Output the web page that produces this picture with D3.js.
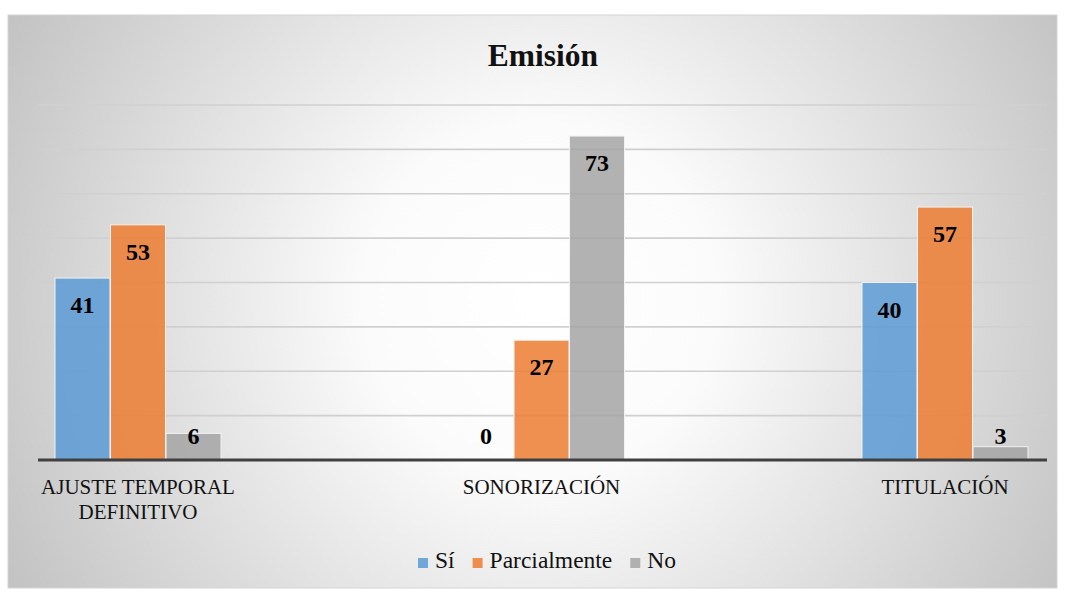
<!DOCTYPE html>
<html>
<head>
<meta charset="utf-8">
<script src="https://cdn.jsdelivr.net/npm/d3@7"></script>
</head>
<body style="margin:0">
<script>
// data
var categories = ["AJUSTE TEMPORAL|DEFINITIVO", "SONORIZACIÓN", "TITULACIÓN"];
var series = ["Sí", "Parcialmente", "No"];
var siValues = [41, 0, 40];
var parcialValues = [53, 27, 57];
var noValues = [6, 73, 3];
var yTicks = [0, 10, 20, 30, 40, 50, 60, 70, 80];
var colors = ["#5B9BD5", "#ED7D31", "#A5A5A5"];

var FONT = "'Liberation Serif'";
var w = 1065, h = 590;
var box = {x: 8, y: 15, w: 1049, h: 573};
var plot = {left: 38, right: 1047, top: 105, bottom: 460};

var svg = d3.select("body").append("svg")
    .attr("width", w).attr("height", h);

// background gradient
var grad = svg.append("defs").append("radialGradient")
    .attr("id", "bg")
    .attr("gradientUnits", "userSpaceOnUse")
    .attr("cx", 540).attr("cy", 300).attr("r", 630);
grad.append("stop").attr("offset", "0").attr("stop-color", "#ffffff");
grad.append("stop").attr("offset", "0.28").attr("stop-color", "#fbfbfb");
grad.append("stop").attr("offset", "1").attr("stop-color", "#bfbfbf");

svg.append("rect")
    .attr("x", box.x).attr("y", box.y)
    .attr("width", box.w).attr("height", box.h)
    .attr("fill", "url(#bg)")
    .attr("stroke", "#d4d4d4").attr("stroke-width", 1);

// scales
var y = d3.scaleLinear().domain([0, 80]).range([plot.bottom, plot.top]);
var x0 = d3.scalePoint().domain(categories).range([138, 945]);
var x1 = d3.scaleBand().domain(series).range([-83, 83]).paddingInner(0.01);
var color = d3.scaleOrdinal().domain(series).range(colors);

// gridlines
svg.append("g").selectAll("line")
    .data(yTicks.filter(function(d) { return d > 0; }))
    .enter().append("line")
    .attr("x1", plot.left).attr("x2", plot.right)
    .attr("y1", function(d) { return y(d); })
    .attr("y2", function(d) { return y(d); })
    .attr("stroke", "#d0d0d0").attr("stroke-width", 1.6);

// bars
var rows = categories.map(function(c, i) {
    return {cat: c, vals: [siValues[i], parcialValues[i], noValues[i]]};
});

var groups = svg.append("g").selectAll("g")
    .data(rows).enter().append("g")
    .attr("transform", function(d) { return "translate(" + x0(d.cat) + ",0)"; });

groups.selectAll("rect")
    .data(function(d) { return d.vals.map(function(v, j) { return {s: series[j], v: v}; }); })
    .enter().append("rect")
    .filter(function(d) { return d.v > 0; })
    .attr("x", function(d) { return x1(d.s); })
    .attr("width", x1.bandwidth())
    .attr("y", function(d) { return y(d.v); })
    .attr("height", function(d) { return y(0) - y(d.v); })
    .attr("fill", function(d) { return color(d.s); })
    .attr("fill-opacity", 0.85)
    .attr("stroke", "#f2f2f2").attr("stroke-width", 1);

// value labels (inside end, kept above the axis for short bars)
groups.selectAll("text")
    .data(function(d) { return d.vals.map(function(v, j) { return {s: series[j], v: v}; }); })
    .enter().append("text")
    .attr("x", function(d) { return x1(d.s) + x1.bandwidth() / 2; })
    .attr("y", function(d) { return Math.min(y(d.v) + 35, 444); })
    .attr("text-anchor", "middle")
    .style("font-family", FONT)
    .style("font-weight", "bold")
    .style("font-size", "24px")
    .attr("fill", "#000")
    .text(function(d) { return d.v; });

// axis line
svg.append("line")
    .attr("x1", plot.left).attr("x2", plot.right)
    .attr("y1", y(0)).attr("y2", y(0))
    .attr("stroke", "#404040").attr("stroke-width", 3);

// category labels
var catLabels = svg.append("g").selectAll("text")
    .data(categories).enter().append("text")
    .attr("x", function(d) { return x0(d); })
    .attr("y", 494)
    .attr("text-anchor", "middle")
    .style("font-family", FONT)
    .style("font-size", "21px")
    .attr("fill", "#111");
catLabels.each(function(d) {
    var t = d3.select(this);
    d.split("|").forEach(function(part, k) {
        t.append("tspan").attr("x", x0(d)).attr("dy", k === 0 ? 0 : 25).text(part);
    });
});

// title
svg.append("text")
    .attr("x", 543).attr("y", 66)
    .attr("text-anchor", "middle")
    .style("font-family", FONT)
    .style("font-weight", "bold")
    .style("font-size", "31.5px")
    .attr("fill", "#111")
    .text("Emisión");

// legend
var legend = svg.append("g");
var lx = 0;
series.forEach(function(s) {
    var item = legend.append("g").attr("transform", "translate(" + lx + ",0)");
    item.append("rect")
        .attr("x", 0).attr("y", -10).attr("width", 10).attr("height", 10)
        .attr("fill", color(s)).attr("fill-opacity", 0.85);
    var t = item.append("text")
        .attr("x", 17).attr("y", 0)
        .style("font-family", FONT)
        .style("font-size", "23.5px")
        .attr("fill", "#111")
        .text(s);
    lx += 17 + t.node().getComputedTextLength() + 18;
});
var legendWidth = lx - 18;
legend.attr("transform", "translate(" + (547 - legendWidth / 2) + ",568)");
</script>
</body>
</html>
